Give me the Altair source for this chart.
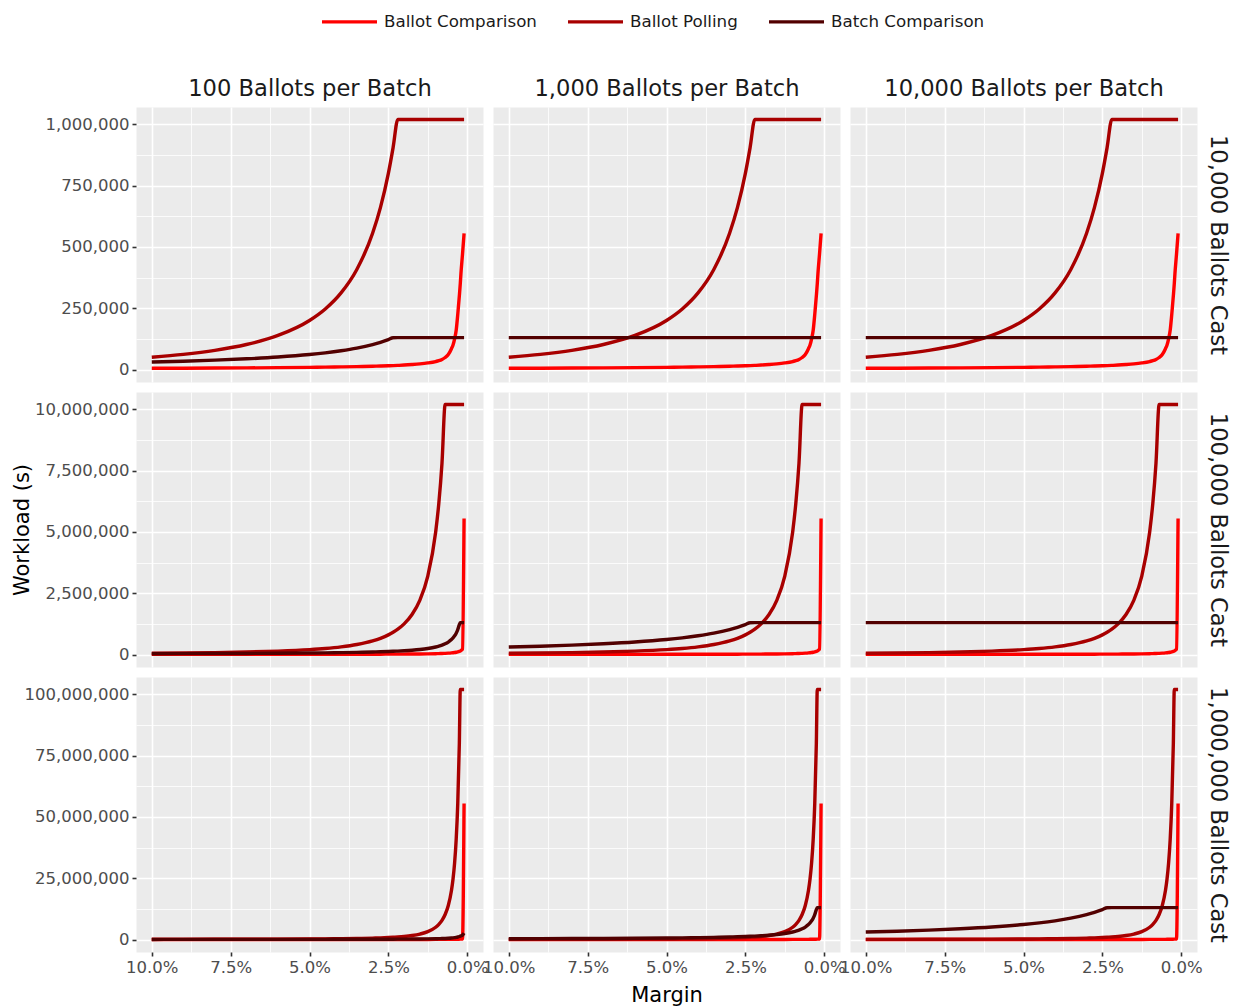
import altair as alt
import pandas as pd

# ---------------- data ----------------
margins = [10, 9, 8, 7, 6, 5, 4.5, 4, 3.5, 3, 2.75, 2.5, 2.35, 2.2, 2.0, 1.75, 1.5, 1.25, 1.0,
           0.9, 0.8, 0.7, 0.6, 0.5, 0.45, 0.4, 0.35, 0.3, 0.25, 0.22, 0.2, 0.15, 0.1]

# Ballot comparison workload, one list per "ballots cast" row
comparison_10k = [5000, 5400, 5900, 6600, 7500, 8800, 9600, 10600, 11800, 13300, 14200, 15200, 15900,
                  16800, 18100, 20300, 23000, 26800, 32500, 36000, 41000, 49000, 61000, 85000, 100000,
                  125000, 160000, 225000, 300000, 350000, 390000, 470000, 555000]
comparison_100k = [4000, 4400, 4900, 5500, 6300, 7500, 8200, 9100, 10300, 11900, 12800, 14000, 14800,
                   15700, 17100, 19300, 22300, 26500, 32800, 36300, 40700, 46400, 54000, 64700, 71800,
                   80700, 92100, 107400, 128800, 146300, 160900, 214500, 5550000]
comparison_1m = [4000, 4400, 4900, 5500, 6300, 7500, 8200, 9100, 10300, 11900, 12800, 14000, 14800,
                 15700, 17100, 19300, 22300, 26500, 32800, 36300, 40700, 46400, 54000, 64700, 71800,
                 80700, 92100, 107400, 128800, 146300, 160900, 214500, 55500000]

# Ballot polling workload
polling_10k = [50000, 61700, 78100, 102000, 138900, 200000, 246900, 312500, 408200, 555600, 661200,
               800000, 905400, 1020000, 1020000, 1020000, 1020000, 1020000, 1020000, 1020000, 1020000,
               1020000, 1020000, 1020000, 1020000, 1020000, 1020000, 1020000, 1020000, 1020000, 1020000,
               1020000, 1020000]
polling_100k = [50000, 61700, 78100, 102000, 138900, 200000, 246900, 312500, 408200, 555600, 661200,
                800000, 905400, 1033000, 1250000, 1632700, 2222200, 3200000, 5000000, 6172800, 7812500,
                10200000, 10200000, 10200000, 10200000, 10200000, 10200000, 10200000, 10200000,
                10200000, 10200000, 10200000, 10200000]
polling_1m = [50000, 61700, 78100, 102000, 138900, 200000, 246900, 312500, 408200, 555600, 661200,
              800000, 905400, 1033000, 1250000, 1632700, 2222200, 3200000, 5000000, 6172800, 7812500,
              10204000, 13888900, 20000000, 24691400, 31250000, 40816300, 55555600, 80000000,
              102000000, 102000000, 102000000, 102000000]

# Batch comparison workload, one list per panel (ballots cast x ballots per batch)
batch_10k_100 = [30500, 33900, 38100, 43600, 50800, 61000, 67800, 76300, 87100, 101700, 110900, 122000,
                 129800, 130000, 130000, 130000, 130000, 130000, 130000, 130000, 130000, 130000, 130000,
                 130000, 130000, 130000, 130000, 130000, 130000, 130000, 130000, 130000, 130000]
batch_10k_1000 = [130000, 130000, 130000, 130000, 130000, 130000, 130000, 130000, 130000, 130000, 130000,
                  130000, 130000, 130000, 130000, 130000, 130000, 130000, 130000, 130000, 130000, 130000,
                  130000, 130000, 130000, 130000, 130000, 130000, 130000, 130000, 130000, 130000, 130000]
batch_10k_10000 = [130000, 130000, 130000, 130000, 130000, 130000, 130000, 130000, 130000, 130000, 130000,
                   130000, 130000, 130000, 130000, 130000, 130000, 130000, 130000, 130000, 130000, 130000,
                   130000, 130000, 130000, 130000, 130000, 130000, 130000, 130000, 130000, 130000, 130000]
batch_100k_100 = [30500, 33900, 38100, 43600, 50800, 61000, 67800, 76300, 87100, 101700, 110900, 122000,
                  129800, 138600, 152500, 174300, 203300, 244000, 305000, 338900, 381300, 435700, 508300,
                  610000, 677800, 762500, 871400, 1016700, 1220000, 1300000, 1300000, 1300000, 1300000]
batch_100k_1000 = [305000, 339000, 381000, 436000, 508000, 610000, 678000, 763000, 871000, 1017000,
                   1109000, 1220000, 1298000, 1300000, 1300000, 1300000, 1300000, 1300000, 1300000,
                   1300000, 1300000, 1300000, 1300000, 1300000, 1300000, 1300000, 1300000, 1300000,
                   1300000, 1300000, 1300000, 1300000, 1300000]
batch_100k_10000 = [1300000, 1300000, 1300000, 1300000, 1300000, 1300000, 1300000, 1300000, 1300000,
                    1300000, 1300000, 1300000, 1300000, 1300000, 1300000, 1300000, 1300000, 1300000,
                    1300000, 1300000, 1300000, 1300000, 1300000, 1300000, 1300000, 1300000, 1300000,
                    1300000, 1300000, 1300000, 1300000, 1300000, 1300000]
batch_1m_100 = [30500, 33900, 38100, 43600, 50800, 61000, 67800, 76300, 87100, 101700, 110900, 122000,
                129800, 138600, 152500, 174300, 203300, 244000, 305000, 338900, 381300, 435700, 508300,
                610000, 677800, 762500, 871400, 1016700, 1220000, 1386400, 1525000, 1800000, 2600000]
batch_1m_1000 = [305000, 339000, 381000, 436000, 508000, 610000, 678000, 763000, 871000, 1017000,
                 1109000, 1220000, 1298000, 1386000, 1525000, 1743000, 2033000, 2440000, 3050000,
                 3389000, 3813000, 4357000, 5083000, 6100000, 6778000, 7625000, 8714000, 10167000,
                 12200000, 13000000, 13000000, 13000000, 13000000]
batch_1m_10000 = [3050000, 3389000, 3813000, 4357000, 5083000, 6100000, 6778000, 7625000, 8714000,
                  10167000, 11091000, 12200000, 12979000, 13000000, 13000000, 13000000, 13000000,
                  13000000, 13000000, 13000000, 13000000, 13000000, 13000000, 13000000, 13000000,
                  13000000, 13000000, 13000000, 13000000, 13000000, 13000000, 13000000, 13000000]

methods = ["Ballot Comparison", "Ballot Polling", "Batch Comparison"]
method_colors = ["#FF0000", "#A80000", "#520000"]
batch_titles = ["100 Ballots per Batch", "1,000 Ballots per Batch", "10,000 Ballots per Batch"]
cast_titles = ["10,000 Ballots Cast", "100,000 Ballots Cast", "1,000,000 Ballots Cast"]

x_ticks = [10, 7.5, 5, 2.5, 0]
x_minor = [8.75, 6.25, 3.75, 1.25]
y_ticks = [[0, 250000, 500000, 750000, 1000000],
           [0, 2500000, 5000000, 7500000, 10000000],
           [0, 25000000, 50000000, 75000000, 100000000]]
y_minor = [[125000, 375000, 625000, 875000],
           [1250000, 3750000, 6250000, 8750000],
           [12500000, 37500000, 62500000, 87500000]]
y_domains = [[-51000, 1071000], [-510000, 10710000], [-5100000, 107100000]]
x_domain = [-0.5, 10.5]

comparison = [comparison_10k, comparison_100k, comparison_1m]
polling = [polling_10k, polling_100k, polling_1m]
batch = [[batch_10k_100, batch_10k_1000, batch_10k_10000],
         [batch_100k_100, batch_100k_1000, batch_100k_10000],
         [batch_1m_100, batch_1m_1000, batch_1m_10000]]

FONT = "DejaVu Sans"
W, H = 347, 275
LABEL_SIZE = 16.5
TITLE_SIZE = 21
STRIP_SIZE = 22.6


def panel(r, c):
    recs = []
    for name, vals in zip(methods, [comparison[r], polling[r], batch[r][c]]):
        for m, v in zip(margins, vals):
            recs.append({"margin": m, "workload": v, "method": name})
    df = pd.DataFrame(recs)

    xs = alt.Scale(domain=x_domain, reverse=True, nice=False, zero=False)
    ys = alt.Scale(domain=y_domains[r], nice=False, zero=False)
    bottom = r == 2
    left = c == 0

    x_major = alt.Axis(
        orient="bottom", values=x_ticks, grid=True, gridColor="white", gridWidth=1.6,
        domain=False, labels=bottom, ticks=bottom,
        labelExpr="format(datum.value, '.1f') + '%'",
        labelFont=FONT, labelFontSize=LABEL_SIZE, labelColor="#4D4D4D", labelPadding=3,
        labelFlush=False, labelOverlap=False,
        tickColor="#333333", tickSize=4, tickWidth=1.6,
        title="Margin" if (bottom and c == 1) else None,
        titleFont=FONT, titleFontSize=TITLE_SIZE, titleFontWeight="normal", titleColor="black",
        titlePadding=9,
    )
    y_major = alt.Axis(
        orient="left", values=y_ticks[r], grid=True, gridColor="white", gridWidth=1.6,
        domain=False, labels=left, ticks=left, format=",d",
        labelFont=FONT, labelFontSize=LABEL_SIZE, labelColor="#4D4D4D", labelPadding=3,
        labelFlush=False, labelOverlap=False,
        tickColor="#333333", tickSize=4, tickWidth=1.6,
        title="Workload (s)" if (left and r == 1) else None,
        titleFont=FONT, titleFontSize=TITLE_SIZE, titleFontWeight="normal", titleColor="black",
        titlePadding=2,
    )
    x_min = alt.Axis(
        orient="top", values=x_minor, grid=True, gridColor="white", gridWidth=0.8,
        domain=False, labels=False, ticks=False, minExtent=0, maxExtent=0,
        title=batch_titles[c] if r == 0 else None,
        titleFont=FONT, titleFontSize=STRIP_SIZE, titleFontWeight="normal", titleColor="#1A1A1A",
        titlePadding=7,
    )
    y_min = alt.Axis(
        orient="right", values=y_minor[r], grid=True, gridColor="white", gridWidth=0.8,
        domain=False, labels=False, ticks=False, minExtent=0, maxExtent=0,
        title=cast_titles[r] if c == 2 else None, titleAngle=90,
        titleFont=FONT, titleFontSize=STRIP_SIZE, titleFontWeight="normal", titleColor="#1A1A1A",
        titlePadding=8,
    )

    legend = alt.Legend(
        orient="none", legendX=184, legendY=-115, direction="horizontal", title=None,
        symbolType="stroke", symbolSize=3025, symbolStrokeWidth=3.4,
        labelFont=FONT, labelFontSize=16.7, labelColor="#1A1A1A", labelOffset=5,
        columnPadding=24, labelLimit=300,
    )

    minor_layer = alt.Chart(df).mark_line(strokeOpacity=0).encode(
        x=alt.X("margin:Q", scale=xs, axis=x_min),
        y=alt.Y("workload:Q", scale=ys, axis=y_min),
    )
    line_layer = alt.Chart(df).mark_line(strokeWidth=3.4, interpolate="monotone").encode(
        x=alt.X("margin:Q", scale=xs, axis=x_major),
        y=alt.Y("workload:Q", scale=ys, axis=y_major),
        color=alt.Color("method:N", scale=alt.Scale(domain=methods, range=method_colors),
                        legend=legend),
    )
    return alt.layer(minor_layer, line_layer).resolve_axis(
        x="independent", y="independent"
    ).properties(width=W, height=H)


panels = [panel(r, c) for r in range(3) for c in range(3)]

chart = alt.concat(
    *panels, columns=3, spacing={"row": 10, "column": 10}, bounds="flush"
).resolve_scale(
    x="independent", y="independent", color="shared"
).properties(
    padding={"left": 11, "top": -8, "right": 6, "bottom": 4},
    background="white",
).configure(font=FONT).configure_view(fill="#EBEBEB", stroke="transparent")

chart.save("out.html", embed_options={"renderer": "svg", "actions": False})
